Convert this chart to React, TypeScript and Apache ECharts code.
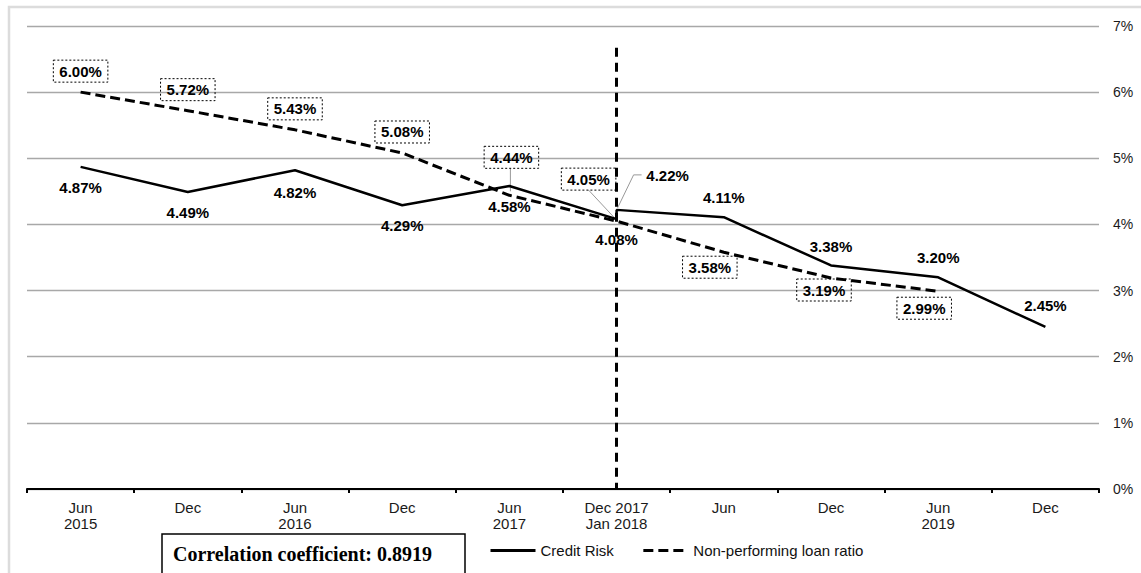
import React, { useEffect, useRef } from "react";
import * as echarts from "echarts";

const categories = [
  "Jun\n2015", "Dec", "Jun\n2016", "Dec", "Jun\n2017",
  "Dec 2017\nJan 2018", "Jun", "Dec", "Jun\n2019", "Dec",
];
// Credit risk: two readings at the Dec 2017 / Jan 2018 category
const creditRiskIdx = [0, 1, 2, 3, 4, 5, 5, 6, 7, 8, 9];
const creditRisk = [4.87, 4.49, 4.82, 4.29, 4.58, 4.08, 4.22, 4.11, 3.38, 3.2, 2.45];
const nplIdx = [0, 1, 2, 3, 4, 5, 6, 7, 8];
const nplRatio = [6.0, 5.72, 5.43, 5.08, 4.44, 4.05, 3.58, 3.19, 2.99];
const yMin = 0;
const yMax = 7;
const yInterval = 1;
const breakIdx = 5;
const breakTop = 6.67;
const correlationText = "Correlation coefficient: 0.8919";
const seriesNames = ["Credit Risk", "Non-performing loan ratio"];

// label offsets (styling)
const crOffsets: [number, number][] = [
  [0, 21], [0, 20], [0, 22], [0, 20], [0, 20], [0, 20], [51, -34], [0, -20], [0, -19], [0, -20], [0, -21],
];
const nplOffsets: [number, number][] = [
  [0, -21], [0, -21], [0, -21], [0, -21], [2, -38], [-28, -42], [-14, 15], [-7, 12], [-14, 17],
];

const labelBase = {
  show: true,
  position: "inside",
  color: "#000",
  fontFamily: "Liberation Sans, Arial, sans-serif",
  fontWeight: "bold",
  fontSize: 15,
  formatter: (p: any) => Number(p.value[1]).toFixed(2) + "%",
};

export default function App() {
  const ref = useRef<HTMLDivElement>(null);
  useEffect(() => {
    document.body.style.margin = "0";
    const chart = echarts.init(ref.current!, null, { renderer: "svg" });
    const option: any = {
      animation: false,
      backgroundColor: "#fff",
      textStyle: { fontFamily: "Liberation Sans, Arial, sans-serif" },
      grid: { left: 27, right: 42, top: 26, bottom: 84, outerBoundsMode: "none" },
      xAxis: {
        type: "category",
        data: categories,
        boundaryGap: true,
        axisLine: { show: true, lineStyle: { color: "#000", width: 2 } },
        axisTick: { show: true, interval: 0, length: 4, lineStyle: { color: "#000", width: 2 } },
        axisLabel: {
          interval: 0,
          color: "#1a1a1a",
          fontSize: 15,
          lineHeight: 16,
          margin: 10,
          fontFamily: "Liberation Sans, Arial, sans-serif",
        },
        splitLine: { show: false },
      },
      yAxis: {
        type: "value",
        position: "right",
        min: yMin,
        max: yMax,
        interval: yInterval,
        axisLine: { show: false },
        axisTick: { show: false },
        axisLabel: {
          formatter: "{value}%",
          color: "#1a1a1a",
          fontSize: 14,
          margin: 14,
          fontFamily: "Liberation Sans, Arial, sans-serif",
        },
        splitLine: { show: true, lineStyle: { color: "#a8a8a8", width: 1.3 } },
      },
      legend: {
        left: 484,
        top: 538,
        itemWidth: 45,
        itemHeight: 14,
        itemGap: 28,
        itemStyle: { color: "rgba(0,0,0,0)", borderWidth: 0 },
        lineStyle: { width: 3 },
        textStyle: { color: "#111", fontSize: 15, fontFamily: "Liberation Sans, Arial, sans-serif" },
        data: seriesNames,
      },
      series: [
        {
          name: seriesNames[0],
          type: "line",
          symbol: "circle",
          symbolSize: 1,
          itemStyle: { color: "rgba(0,0,0,0)", borderWidth: 0 },
          lineStyle: { color: "#000", width: 2.5, type: "solid" },
          data: creditRisk.map((v, i) => ({
            value: [creditRiskIdx[i], v],
            label: { ...labelBase, offset: crOffsets[i] },
          })),
          z: 3,
        },
        {
          name: seriesNames[1],
          type: "line",
          symbol: "circle",
          symbolSize: 1,
          itemStyle: { color: "rgba(0,0,0,0)", borderWidth: 0 },
          lineStyle: { color: "#000", width: 3, type: [10, 5] },
          data: nplRatio.map((v, i) => ({
            value: [nplIdx[i], v],
            label: {
              ...labelBase,
              offset: nplOffsets[i],
              borderColor: "#000",
              borderWidth: 1,
              borderType: [2, 2],
              padding: [4, 6, 3, 6],
            },
          })),
          markLine: {
            silent: true,
            symbol: "none",
            label: { show: false },
            lineStyle: { color: "#000", width: 3, type: [9, 6] },
            data: [[{ coord: [breakIdx, breakTop] }, { coord: [breakIdx, yMin] }]],
          },
          z: 4,
        },
      ],
    };
    chart.setOption(option);

    const px = (x: number, y: number) => chart.convertToPixel({ gridIndex: 0 }, [x, y]) as number[];
    const p44 = px(nplIdx[4], nplRatio[4]);
    const p405 = px(nplIdx[5], nplRatio[5]);
    const p422 = px(creditRiskIdx[6], creditRisk[6]);
    const leader = { stroke: "#999", lineWidth: 1, fill: null };
    chart.setOption({
      graphic: [
        {
          type: "rect",
          shape: { x: 9, y: 7, width: 1150, height: 600 },
          style: { fill: null, stroke: "#dcdcdc", lineWidth: 2.5 },
          silent: true,
        },
        {
          type: "line",
          shape: { x1: p44[0] + 1, y1: p44[1] - 27, x2: p44[0] + 1, y2: p44[1] - 4 },
          style: leader,
        },
        {
          type: "line",
          shape: { x1: p405[0] - 28, y1: p405[1] - 31, x2: p405[0], y2: p405[1] - 1 },
          style: leader,
        },
        {
          type: "polyline",
          shape: {
            points: [
              [p422[0] + 1, p422[1] - 2],
              [p422[0] + 17, p422[1] - 35],
              [p422[0] + 25, p422[1] - 35],
            ],
          },
          style: leader,
        },
        {
          type: "rect",
          shape: { x: 162, y: 534, width: 303, height: 60 },
          style: { fill: "#fff", stroke: "#000", lineWidth: 1.5 },
        },
        {
          type: "text",
          x: 173,
          y: 554,
          style: {
            text: correlationText,
            fill: "#000",
            font: "bold 20px 'Liberation Serif', 'Times New Roman', serif",
            textVerticalAlign: "middle",
          },
        },
      ],
    });
    return () => chart.dispose();
  }, []);
  return <div ref={ref} style={{ width: 1141, height: 573 }} />;
}
